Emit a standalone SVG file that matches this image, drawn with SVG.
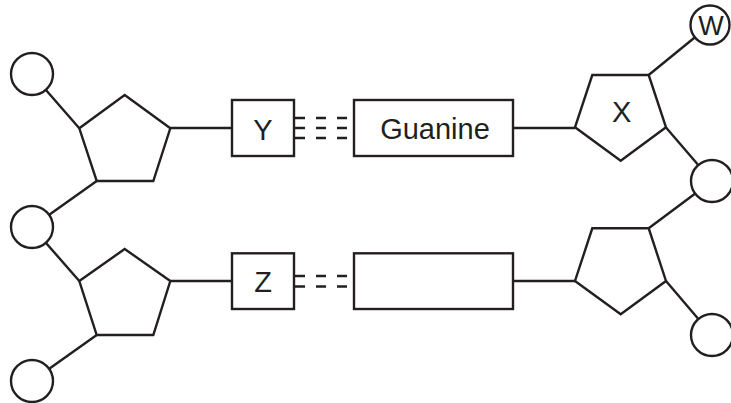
<svg xmlns="http://www.w3.org/2000/svg" width="731" height="403" viewBox="0 0 731 403">
<style>
.s{fill:none;stroke:#231f20;stroke-width:2.4;stroke-linejoin:miter}
.c{fill:#fff;stroke:#231f20;stroke-width:2.4}
.b{fill:#fff;stroke:#231f20;stroke-width:2.4}
.d{stroke:#231f20;stroke-width:2.4;stroke-dasharray:10 11}
.t{font-family:"Liberation Sans",Arial,sans-serif;font-size:29px;fill:#231f20;text-anchor:middle}
</style>
<rect width="731" height="403" fill="#fff"/>
<g id="connectors">
<line class="s" x1="32" y1="74" x2="79.3" y2="128.3"/>
<line class="s" x1="32" y1="227" x2="96.7" y2="181"/>
<line class="s" x1="32" y1="227" x2="79.3" y2="281"/>
<line class="s" x1="32" y1="381" x2="96.7" y2="335"/>
<line class="s" x1="170.3" y1="128" x2="232" y2="128"/>
<line class="s" x1="170.3" y1="281" x2="232" y2="281"/>
<line class="s" x1="513" y1="128" x2="575" y2="128"/>
<line class="s" x1="513" y1="281" x2="575" y2="281"/>
<line class="s" x1="710" y1="25" x2="648.7" y2="75"/>
<line class="s" x1="666" y1="127.5" x2="712" y2="181"/>
<line class="s" x1="712" y1="181" x2="648.7" y2="228.3"/>
<line class="s" x1="666" y1="281" x2="712" y2="335"/>
<line class="d" x1="295" y1="118" x2="347" y2="118"/>
<line class="d" x1="295" y1="128" x2="347" y2="128"/>
<line class="d" x1="295" y1="138" x2="347" y2="138"/>
<line class="d" x1="295" y1="276" x2="347" y2="276"/>
<line class="d" x1="295" y1="286.5" x2="347" y2="286.5"/>
</g>
<g id="phosphate-tl"><circle class="c" cx="32" cy="74" r="21"/></g>
<g id="phosphate-ml"><circle class="c" cx="32" cy="227" r="21"/></g>
<g id="phosphate-bl"><circle class="c" cx="32" cy="381" r="21"/></g>
<g id="sugar-tl"><polygon class="b" points="124.7,95 170.3,128.3 153.3,181 96.7,181 79.3,128.3"/></g>
<g id="sugar-bl"><polygon class="b" points="124.7,249 170.3,281 153.3,335 96.7,335 79.3,281"/></g>
<g id="base-Y"><rect class="b" x="232" y="100" width="62" height="56"/><text class="t" x="263" y="140">Y</text></g>
<g id="base-Z"><rect class="b" x="232" y="253.3" width="62" height="55.7"/><text class="t" x="263" y="291.7">Z</text></g>
<g id="base-guanine"><rect class="b" x="354" y="100" width="159" height="56"/><text class="t" x="435" y="139">Guanine</text></g>
<g id="base-blank"><rect class="b" x="354" y="253.3" width="159" height="55.7"/></g>
<g id="sugar-X"><polygon class="b" points="592.3,75 648.7,75 666,127.3 620.7,160.7 575,127.3"/><text class="t" x="621.7" y="121.7">X</text></g>
<g id="sugar-br"><polygon class="b" points="592.3,228.3 648.7,228.3 666,281 620.7,314.3 575,281"/></g>
<g id="phosphate-W"><circle class="c" cx="710" cy="25" r="19.5"/><text class="t" x="711" y="35" style="font-size:27px">W</text></g>
<g id="phosphate-mr"><circle class="c" cx="712" cy="181" r="21"/></g>
<g id="phosphate-br"><circle class="c" cx="712" cy="335" r="21"/></g>
</svg>
